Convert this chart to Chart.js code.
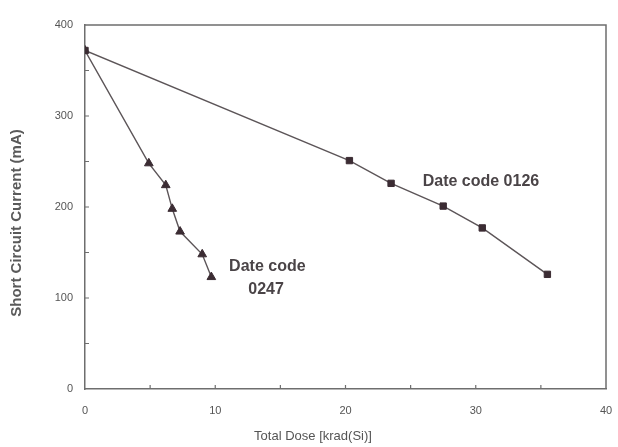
<!DOCTYPE html>
<html>
<head>
<meta charset="utf-8">
<script src="https://cdn.jsdelivr.net/npm/chart.js@4"></script>
<style>
html,body{margin:0;padding:0;background:#fff;}
#wrap{width:618px;height:447px;position:relative;}
</style>
</head>
<body>
<div id="wrap"><canvas id="c" width="618" height="447"></canvas></div>
<script>
// ---- data ----
const dose0126 = [0, 20.3, 23.5, 27.5, 30.5, 35.5];
const current0126 = [372, 251, 226, 201, 177, 126];
const dose0247 = [0, 4.9, 6.2, 6.7, 7.3, 9.0, 9.7];
const current0247 = [372, 248, 224, 198, 173, 148, 123];
const xTicks = [0, 10, 20, 30, 40];
const yTicks = [0, 100, 200, 300, 400];
const xTitle = "Total Dose [krad(Si)]";
const yTitle = "Short Circuit Current (mA)";
const label0126 = "Date code 0126";
const label0247 = ["Date code", "0247"];

const toPts = (xs, ys) => xs.map((x, i) => ({x: x, y: ys[i]}));

const AXIS = '#6e6e6e';
const LINE = '#5c5558';
const MARK = '#3b2c33';
const TEXT = '#4a4447';

const decor = {
  id: 'decor',
  afterDraw(chart) {
    const {ctx, chartArea: a, scales} = chart;
    const xs = scales.x, ys = scales.y;
    ctx.save();
    // top & right frame
    ctx.strokeStyle = AXIS;
    ctx.lineWidth = 1.5;
    ctx.beginPath();
    ctx.moveTo(a.left, a.top); ctx.lineTo(a.right, a.top); ctx.lineTo(a.right, a.bottom);
    ctx.stroke();
    // inward tick marks
    ctx.lineWidth = 1.2;
    ctx.beginPath();
    for (let v = 5; v < 40; v += 5) {
      const px = xs.getPixelForValue(v);
      ctx.moveTo(px, a.bottom); ctx.lineTo(px, a.bottom - 4);
    }
    for (let v = 50; v < 400; v += 50) {
      const py = ys.getPixelForValue(v);
      ctx.moveTo(a.left, py); ctx.lineTo(a.left + 4, py);
    }
    ctx.stroke();
    // annotations
    ctx.fillStyle = TEXT;
    ctx.textAlign = 'center';
    ctx.textBaseline = 'middle';
    ctx.font = 'bold 16px "Liberation Sans", Arial, sans-serif';
    ctx.fillText(label0126, xs.getPixelForValue(30.4), ys.getPixelForValue(227.5));
    ctx.fillText(label0247[0], xs.getPixelForValue(14.0), ys.getPixelForValue(134));
    ctx.fillText(label0247[1], xs.getPixelForValue(13.9), ys.getPixelForValue(109));
    // axis titles
    ctx.fillStyle = '#555';
    ctx.font = '13px "Liberation Sans", Arial, sans-serif';
    ctx.fillText(xTitle, 313, 436);
    ctx.save();
    ctx.translate(17, 223);
    ctx.rotate(-Math.PI / 2);
    ctx.font = 'bold 15px "Liberation Sans", Arial, sans-serif';
    ctx.fillStyle = '#5a5a5a';
    ctx.fillText(yTitle, 0, 0);
    ctx.restore();
    ctx.restore();
  }
};

new Chart(document.getElementById('c'), {
  type: 'scatter',
  data: {
    datasets: [
      {
        label: label0126,
        data: toPts(dose0126, current0126),
        showLine: true,
        borderColor: LINE,
        borderWidth: 1.4,
        pointStyle: 'rect',
        pointRadius: 4.5,
        pointBackgroundColor: MARK,
        pointBorderColor: MARK,
        pointBorderWidth: 1
      },
      {
        label: label0247[0] + ' ' + label0247[1],
        data: toPts(dose0247, current0247),
        showLine: true,
        borderColor: LINE,
        borderWidth: 1.4,
        pointStyle: 'triangle',
        pointRadius: 5,
        pointBackgroundColor: MARK,
        pointBorderColor: MARK,
        pointBorderWidth: 1
      }
    ]
  },
  options: {
    responsive: false,
    animation: false,
    events: [],
    layout: {padding: {left: 0, right: 12, top: 25, bottom: 0}},
    plugins: {legend: {display: false}, tooltip: {enabled: false}},
    scales: {
      x: {
        type: 'linear', min: 0, max: 40,
        afterBuildTicks: s => { s.ticks = xTicks.map(v => ({value: v})); },
        afterFit: s => { s.height = 58; s.paddingLeft = 0; s.paddingRight = 0; },
        grid: {display: false, drawTicks: false},
        border: {display: true, color: AXIS, width: 1.5},
        ticks: {color: '#555', font: {size: 11, family: '"Liberation Sans", Arial, sans-serif'}, padding: 15, maxRotation: 0}
      },
      y: {
        type: 'linear', min: 0, max: 400,
        afterBuildTicks: s => { s.ticks = yTicks.map(v => ({value: v})); },
        afterFit: s => { s.width = 85; s.paddingTop = 0; s.paddingBottom = 0; },
        grid: {display: false, drawTicks: false},
        border: {display: true, color: AXIS, width: 1.5},
        ticks: {color: '#555', font: {size: 11, family: '"Liberation Sans", Arial, sans-serif'}, padding: 12}
      }
    }
  },
  plugins: [decor]
});
</script>
</body>
</html>
